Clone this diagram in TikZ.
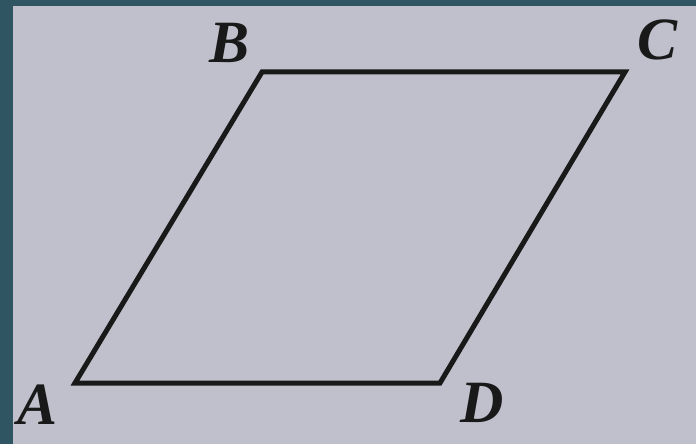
\documentclass[tikz,border=0pt]{standalone}
\usepackage{fontspec}
\setmainfont{Liberation Serif}
\usetikzlibrary{positioning}
\definecolor{frameteal}{HTML}{2F5462}
\definecolor{paper}{HTML}{C0C0CC}

\begin{document}
\begin{tikzpicture}[x=1pt,y=-1pt,
  vertex/.style={font=\fontsize{60}{62}\selectfont\bfseries\itshape,text=black!90,inner sep=0pt}]
  % Frame and paper
  \fill[frameteal] (0,0) rectangle (696,444);
  \fill[paper] (13,6) rectangle (696,444);
  \useasboundingbox (0,0) rectangle (696,444);

  % Corners
  \coordinate (A) at (75,383);
  \coordinate (B) at (262,72);
  \coordinate (C) at (625,72);
  \coordinate (D) at (440,383);

  % Parallelogram
  \draw[line width=5pt,black!90,line join=miter] (A) -- (B) -- (C) -- (D) -- cycle;

  % Labels
  \node[vertex] (lA) at (38,405) {A};
  \node[vertex] (lB) at (230,43) {B};
  \node[vertex] (lC) at (658,40) {C};
  \node[vertex] (lD) at (482,403) {D};
\end{tikzpicture}
\end{document}
